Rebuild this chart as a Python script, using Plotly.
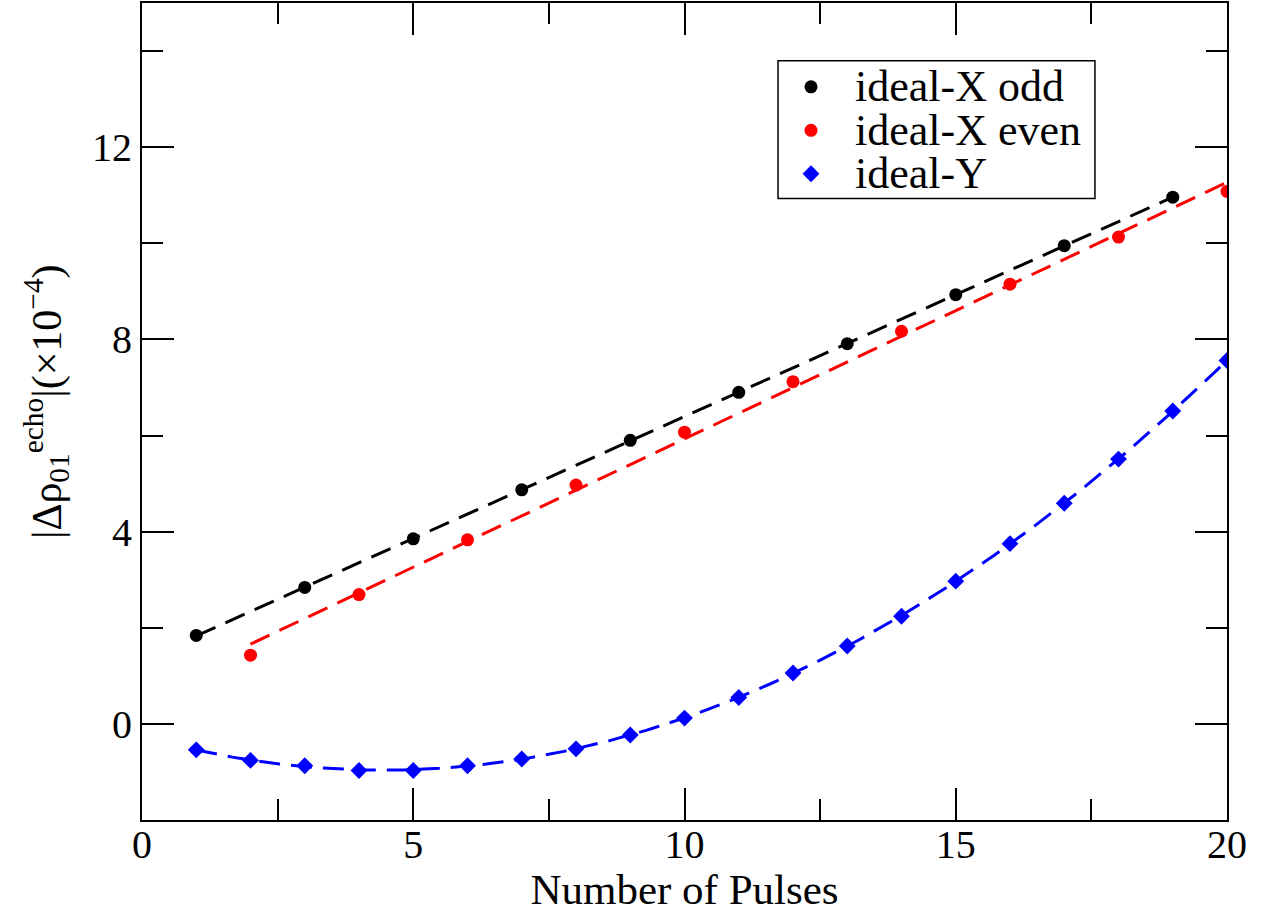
import numpy as np
import plotly.graph_objects as go

# Pulse counts
pulses_odd = [1, 3, 5, 7, 9, 11, 13, 15, 17, 19]
pulses_even = [2, 4, 6, 8, 10, 12, 14, 16, 18, 20]
pulses_all = list(range(1, 21))

# |Δρ01 echo| in units of 1e-4
x_odd = [1.84, 2.84, 3.85, 4.87, 5.90, 6.90, 7.91, 8.93, 9.95, 10.96]
x_even = [1.43, 2.69, 3.83, 4.97, 6.07, 7.12, 8.17, 9.15, 10.13, 11.08]
y_all = [-0.54, -0.76, -0.87, -0.97, -0.97, -0.87, -0.73, -0.52, -0.23, 0.12,
         0.55, 1.06, 1.62, 2.24, 2.97, 3.75, 4.59, 5.51, 6.51, 7.56]

series_names = ["ideal-X odd", "ideal-X even", "ideal-Y"]
series_colors = ["black", "red", "blue"]
series_symbols = ["circle", "circle", "diamond"]
series_sizes = [13, 13, 13]

FONT = "Liberation Serif"

# Least-squares fits drawn as dashed guides
def fit_curve(xs, ys, deg):
    coeffs = np.polyfit(xs, ys, deg)
    xx = np.linspace(min(xs), max(xs), 200)
    return xx, np.polyval(coeffs, xx)

fig = go.Figure()

dash = "21px,11px"
for xs, ys, deg, color in [
    (pulses_odd, x_odd, 1, "black"),
    (pulses_even, x_even, 1, "red"),
    (pulses_all, y_all, 2, "blue"),
]:
    xx, yy = fit_curve(xs, ys, deg)
    fig.add_trace(go.Scatter(x=xx, y=yy, mode="lines", showlegend=False,
                             line=dict(color=color, width=3, dash=dash),
                             hoverinfo="skip"))

for xs, ys, name, color, sym, size in zip(
        [pulses_odd, pulses_even, pulses_all], [x_odd, x_even, y_all],
        series_names, series_colors, series_symbols, series_sizes):
    fig.add_trace(go.Scatter(x=xs, y=ys, mode="markers", name=name, showlegend=False,
                             marker=dict(color=color, size=size, symbol=sym)))

# Compact boxed key (tighter row spacing than the built-in legend allows)
LEG_X0, LEG_X1 = 0.5862, 0.8783
LEG_Y0, LEG_Y1 = 0.7607, 0.9292
SYM_X, TXT_X = 0.6166, 0.6553
ROW_TOP, ROW_STEP = 0.8974, 0.0532

fig.add_shape(type="rect", xref="paper", yref="paper",
              x0=LEG_X0, x1=LEG_X1, y0=LEG_Y0, y1=LEG_Y1,
              line=dict(color="black", width=1.5), fillcolor="white", layer="below")

row_y = [ROW_TOP - i * ROW_STEP for i in range(len(series_names))]
for ry, name, color, sym, size in zip(row_y, series_names, series_colors,
                                      series_symbols, series_sizes):
    fig.add_trace(go.Scatter(x=[SYM_X], y=[ry], xaxis="x2", yaxis="y2", mode="markers",
                             showlegend=False, hoverinfo="skip",
                             marker=dict(color=color, size=size, symbol=sym)))
    fig.add_annotation(x=TXT_X, y=ry, xref="paper", yref="paper", text=name,
                       showarrow=False, xanchor="left", yanchor="middle",
                       font=dict(family=FONT, size=44, color="black"))

# Rotated y-axis title
fig.add_annotation(
    x=-0.0885, y=0.5128, xref="paper", yref="paper", textangle=-90,
    text="|Δρ<sub>01</sub><sup>echo</sup>|(×10<sup>−4</sup>)",
    showarrow=False, xanchor="center", yanchor="middle",
    font=dict(family=FONT, size=42, color="black"),
)

axis_common = dict(
    showline=True, linecolor="black", linewidth=2, mirror="allticks",
    ticks="inside", ticklen=32, tickwidth=1.5, tickcolor="black",
    showgrid=False, zeroline=False,
    tickfont=dict(family=FONT, size=40, color="black"),
)

fig.update_xaxes(
    range=[0, 20], dtick=5, tick0=0, ticklabelstandoff=-12,
    minor=dict(dtick=2.5, ticks="inside", ticklen=21, tickwidth=1.5, tickcolor="black", showgrid=False),
    title=dict(text="Number of Pulses", font=dict(family=FONT, size=43, color="black"), standoff=14),
    **axis_common,
)
fig.update_yaxes(
    range=[-2, 15], dtick=4, tick0=0,
    minor=dict(dtick=2, ticks="inside", ticklen=21, tickwidth=1.5, tickcolor="black", showgrid=False),
    **axis_common,
)

fig.update_layout(
    width=1279, height=913,
    margin=dict(l=142, r=52, t=1, b=93),
    paper_bgcolor="white", plot_bgcolor="white",
    font=dict(family=FONT, color="black"),
    showlegend=False,
    xaxis2=dict(overlaying="x", range=[0, 1], visible=False, fixedrange=True),
    yaxis2=dict(overlaying="y", range=[0, 1], visible=False, fixedrange=True),
)

fig.write_html("out.html")
